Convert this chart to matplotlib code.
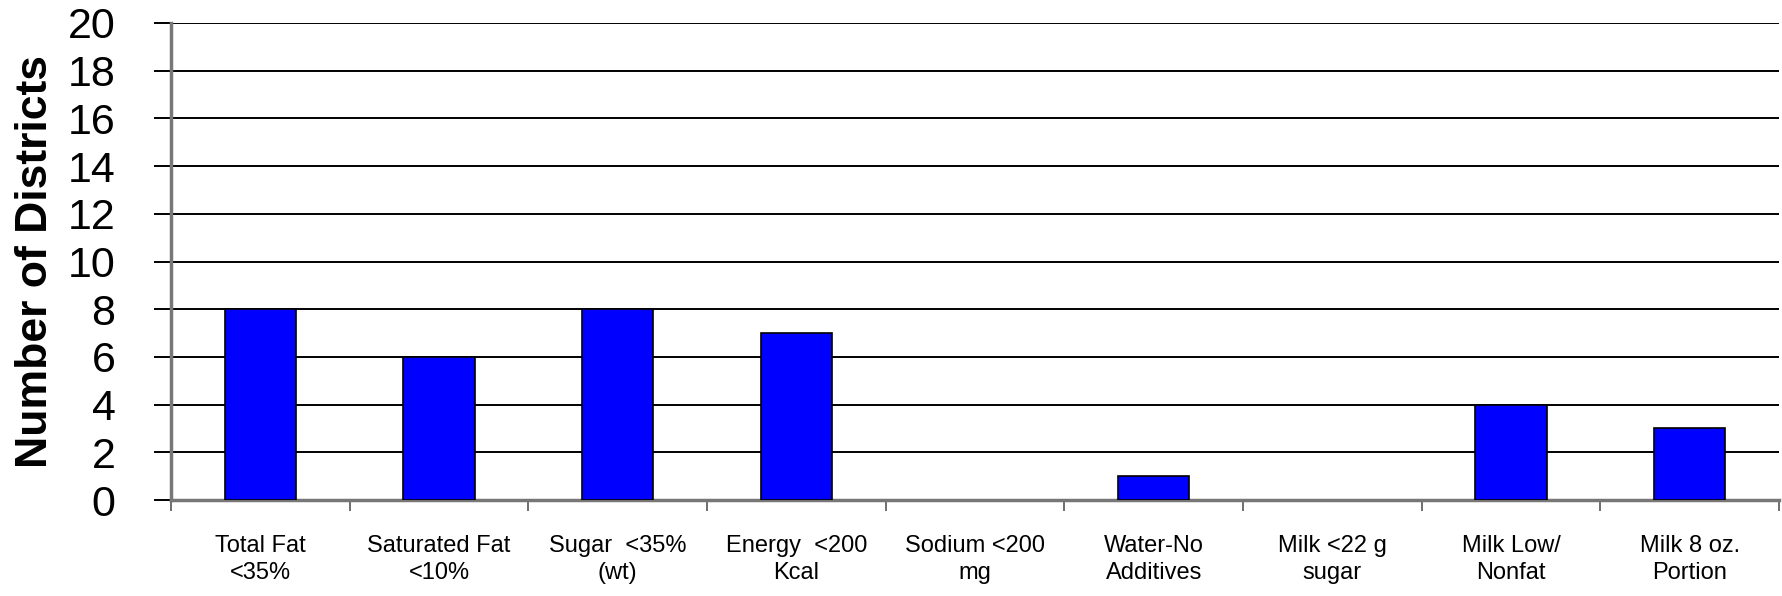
import numpy as np
import matplotlib.pyplot as plt

categories = ["Total Fat\n<35%", "Saturated Fat\n<10%", "Sugar  <35%\n(wt)",
              "Energy  <200\nKcal", "Sodium <200\nmg", "Water-No\nAdditives",
              "Milk <22 g\nsugar", "Milk Low/\nNonfat", "Milk 8 oz.\nPortion"]
districts = [8, 6, 8, 7, 0, 1, 0, 4, 3]
y_ticks = list(range(0, 21, 2))

plt.rcParams["font.family"] = ["Liberation Sans", "DejaVu Sans"]

fig = plt.figure(figsize=(17.82, 5.96), dpi=100)
ax = fig.add_axes([171 / 1782, 96 / 596, (1779 - 171) / 1782, (500 - 23) / 596])

x = np.arange(len(categories))
# empty categories get no outline so nothing shows on the baseline
edge_widths = [1.2 if v > 0 else 0 for v in districts]
ax.bar(x, districts, width=0.4, color="#0000ff", edgecolor="black",
       linewidth=edge_widths, zorder=3)

ax.set_xlim(-0.5, len(categories) - 0.5)
ax.set_ylim(0, 20)
ax.set_yticks(y_ticks)
ax.yaxis.grid(True, color="black", linewidth=1.4, zorder=1)
ax.set_axisbelow(True)

# category labels sit between boundary ticks
ax.set_xticks(x)
ax.set_xticklabels(categories, fontsize=17, linespacing=1.3)
ax.tick_params(axis="x", length=0, pad=25)
ax.set_xticks(np.arange(len(categories) + 1) - 0.5, minor=True)
ax.tick_params(axis="x", which="minor", length=8, width=1.2, color="#555555")

ax.tick_params(axis="y", length=12, width=1.4, color="black", labelsize=31, pad=28)

for side in ["top", "right"]:
    ax.spines[side].set_visible(False)
for side in ["left", "bottom"]:
    ax.spines[side].set_color("#777777")
    ax.spines[side].set_linewidth(2.5)

ax.set_ylabel("Number of Districts", fontweight="bold", fontsize=32, labelpad=8)

fig.savefig("out.png", dpi=100)
